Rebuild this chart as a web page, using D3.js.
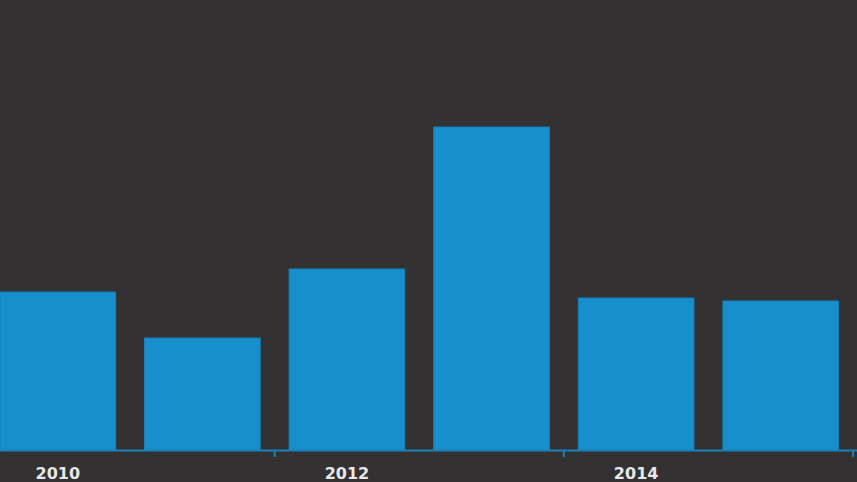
<!DOCTYPE html>
<html>
<head>
<script src="https://d3js.org/d3.v7.min.js" charset="utf-8"></script>
<style>
    html, body { margin: 0; padding: 0; background: #333132; overflow: hidden; }
    .lbl text { font-family: "DejaVu Sans", Verdana, sans-serif; font-weight: bold; font-size: 16px; fill: #e8e8e8; }
</style>
</head>
<body>
<script>
    // data
    var years = ["2010", "2011", "2012", "2013", "2014", "2015"];
    var values = [158, 112, 181, 323, 152, 149];
    var labelYears = ["2010", "2012", "2014"];
    var tickYears = ["2011", "2013", "2015"];

    var w = 857, h = 482;
    var base = 450;

    var svg = d3.select("body").append("svg")
        .attr("width", w)
        .attr("height", h);

    var x = d3.scaleBand()
        .domain(years)
        .range([-14.5, 853])
        .paddingInner(0.2)
        .paddingOuter(0.1);

    var y = d3.scaleLinear()
        .domain([0, 450])
        .range([base, 0]);

    svg.selectAll("rect.bar")
        .data(years)
        .enter()
        .append("rect")
        .attr("class", "bar")
        .attr("x", function(d) { return x(d); })
        .attr("y", function(d, i) { return y(values[i]); })
        .attr("width", x.bandwidth())
        .attr("height", function(d, i) { return base - y(values[i]); })
        .attr("fill", "#178fcc")
        .attr("stroke", "#1580b8")
        .attr("stroke-width", 1);

    // axis line
    svg.append("line")
        .attr("x1", 0).attr("x2", w)
        .attr("y1", base + 0.5).attr("y2", base + 0.5)
        .attr("stroke", "#1a82bb")
        .attr("stroke-width", 2);

    // tick marks between bars
    var gap = x.step() - x.bandwidth();
    svg.selectAll("line.tick")
        .data(tickYears)
        .enter()
        .append("line")
        .attr("class", "tick")
        .attr("x1", function(d) { return x(d) + x.bandwidth() + gap / 2; })
        .attr("x2", function(d) { return x(d) + x.bandwidth() + gap / 2; })
        .attr("y1", base)
        .attr("y2", base + 7)
        .attr("stroke", "#1a82bb")
        .attr("stroke-width", 2);

    // labels
    var axis = d3.axisBottom(x).tickValues(labelYears).tickSize(0).tickPadding(0);
    var g = svg.append("g")
        .attr("class", "lbl")
        .attr("transform", "translate(0," + base + ")")
        .call(axis);
    g.select(".domain").remove();
    g.selectAll("text").attr("dy", null).attr("y", 29);
</script>
</body>
</html>
